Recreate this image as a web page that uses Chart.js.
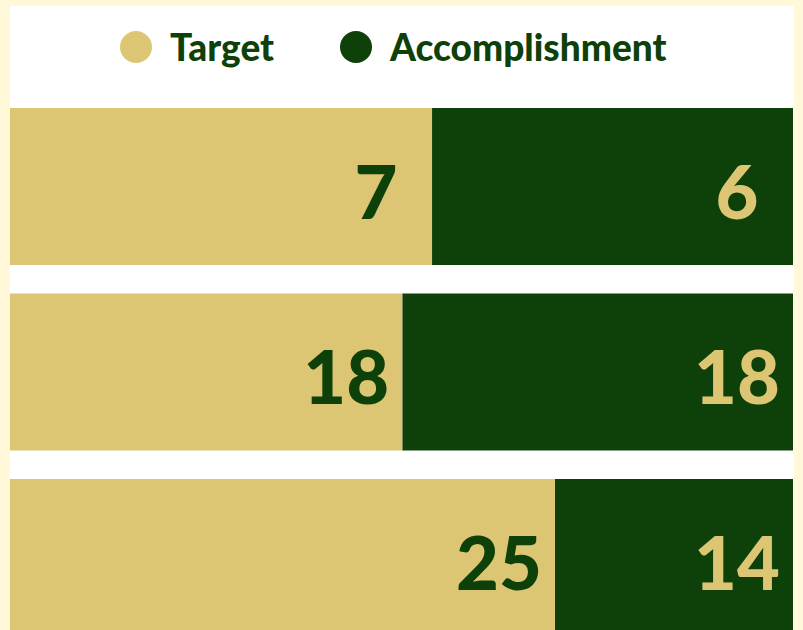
<!DOCTYPE html>
<html>
<head>
<meta charset="utf-8">
<script src="https://cdn.jsdelivr.net/npm/chart.js@4.4.1/dist/chart.umd.min.js"></script>
<style>
    html, body { margin: 0; padding: 0; overflow: hidden; }
    body { width: 803px; height: 630px; background: #fff9da; position: relative; font-family: "Lato", sans-serif; }
    .panel { position: absolute; left: 10px; top: 6px; width: 784px; height: 640px; background: #ffffff; }
    .chart-box { position: absolute; left: 10px; top: 6px; width: 784px; height: 660px; }
    #legend { position: absolute; left: 0; top: 0; width: 803px; height: 94px; }
    .legend-item { position: absolute; top: 31px; height: 32px; display: flex; align-items: center; }
    .legend-dot { width: 32px; height: 32px; border-radius: 50%; margin-right: 18px; }
    .legend-text { font-size: 37px; font-weight: 900; color: #0d4109; line-height: 32px; }
</style>
</head>
<body>
<div class="panel"></div>
<div id="legend"></div>
<div class="chart-box"><canvas id="splitChart"></canvas></div>

<script>
// rows, top to bottom
const categories = ['Row 1', 'Row 2', 'Row 3'];

// numbers printed on the bars
const targetValues = [7, 18, 25];
const accomplishmentValues = [6, 18, 14];

// share of each bar (%)
const targetShare = [53.9, 50.1, 69.6];
const accomplishmentShare = [46.1, 49.9, 30.4];

const seriesNames = ['Target', 'Accomplishment'];
const tan = '#dcc674';
const green = '#0d4109';

document.addEventListener("DOMContentLoaded", function () {

    // numbers inside the bars
    const barNumbers = {
        id: 'barNumbers',
        afterDatasetsDraw(chart) {
            const ctx = chart.ctx;
            const printed = [targetValues, accomplishmentValues];
            const textColors = [green, tan];
            ctx.save();
            ctx.font = '900 74px Lato, sans-serif';
            ctx.textAlign = 'center';
            ctx.textBaseline = 'alphabetic';
            chart.data.datasets.forEach((ds, i) => {
                chart.getDatasetMeta(i).data.forEach((bar, j) => {
                    ctx.fillStyle = textColors[i];
                    ctx.fillText(String(printed[i][j]), bar.x - 56, bar.y + 32);
                });
            });
            ctx.restore();
        }
    };

    // html legend
    const htmlLegend = {
        id: 'htmlLegend',
        afterUpdate(chart) {
            const box = document.getElementById('legend');
            box.innerHTML = '';
            const lefts = [120, 340];
            chart.data.datasets.forEach((ds, i) => {
                const item = document.createElement('div');
                item.className = 'legend-item';
                item.style.left = lefts[i] + 'px';
                const dot = document.createElement('span');
                dot.className = 'legend-dot';
                dot.style.background = ds.backgroundColor;
                const txt = document.createElement('span');
                txt.className = 'legend-text';
                txt.textContent = ds.label;
                item.appendChild(dot);
                item.appendChild(txt);
                box.appendChild(item);
            });
        }
    };

    const ctx = document.getElementById('splitChart').getContext('2d');

    new Chart(ctx, {
        type: 'bar',
        data: {
            labels: categories,
            datasets: [{
                label: seriesNames[0],
                data: targetShare,
                backgroundColor: tan,
                borderWidth: 0
            }, {
                label: seriesNames[1],
                data: accomplishmentShare,
                backgroundColor: green,
                borderWidth: 0
            }]
        },
        options: {
            indexAxis: 'y',
            responsive: true,
            maintainAspectRatio: false,
            animation: false,
            layout: {
                padding: { top: 87.75, bottom: 15.75, left: 0, right: 1 }
            },
            datasets: {
                bar: { categoryPercentage: 0.846, barPercentage: 1 }
            },
            scales: {
                x: { stacked: true, min: 0, max: 100, display: false },
                y: { stacked: true, display: false }
            },
            plugins: {
                legend: { display: false },
                tooltip: { enabled: false }
            }
        },
        plugins: [barNumbers, htmlLegend]
    });

});
</script>
</body>
</html>
